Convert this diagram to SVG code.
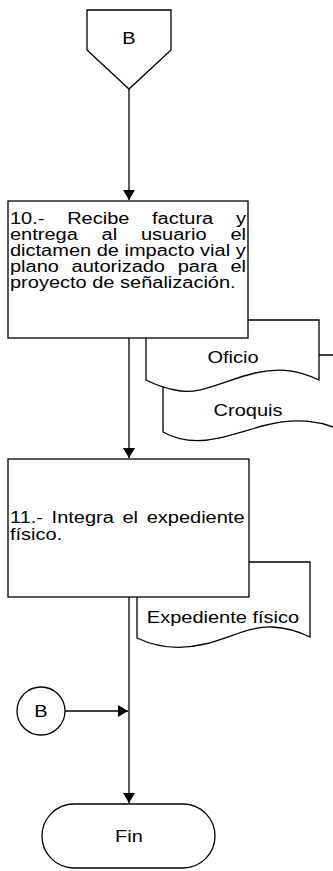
<svg xmlns="http://www.w3.org/2000/svg" width="333" height="871" viewBox="0 0 333 871">
<style>
.s{fill:#fff;stroke:#000;stroke-width:1.3}
.c{fill:none;stroke:#000;stroke-width:1.3}
.t{font-family:"Liberation Sans",Arial,sans-serif;font-size:16px;fill:#000}
.m{text-anchor:middle}
</style>
<defs>
<marker id="ah" viewBox="0 0 10 12" refX="10" refY="6" markerWidth="10" markerHeight="12" markerUnits="userSpaceOnUse" orient="auto">
<path d="M0,0 L10,6 L0,12 z" fill="#000"/>
</marker>
</defs>
<g id="connectors">
<line class="c" x1="129" y1="88" x2="129" y2="200" marker-end="url(#ah)"/>
<line class="c" x1="129" y1="338" x2="129" y2="458" marker-end="url(#ah)"/>
<line class="c" x1="129" y1="597" x2="129" y2="803" marker-end="url(#ah)"/>
<line class="c" x1="65" y1="711" x2="128" y2="711" marker-end="url(#ah)"/>
</g>
<g id="offpage-B">
<path class="s" d="M87,10 L171,10 L171,50 L129,89 L87,50 Z"/>
<text class="t m" transform="scale(1.25,1)" x="103.2" y="44">B</text>
</g>
<g id="doc-croquis">
<path class="s" d="M163,355 L345,355 L345,432 C320,420 295,417 262,426 C228,436 195,450 163,432 Z"/>
<text class="t m" transform="scale(1.25,1)" x="198.4" y="416">Croquis</text>
</g>
<g id="doc-oficio">
<path class="s" d="M146,320 L319,320 L319,380 C300,371 282,367 255,373 C225,380 200,396 175,390 C160,387 152,383 146,380 Z"/>
<text class="t m" transform="scale(1.25,1)" x="186.4" y="363">Oficio</text>
</g>
<g id="step10">
<rect class="s" x="8" y="201" width="240" height="137"/>
<g class="t" transform="scale(1.25,1)">
<text x="8" y="224" word-spacing="13.7">10.- Recibe factura y</text>
<text x="8" y="240" word-spacing="14.6">entrega al usuario el</text>
<text x="8" y="256">dictamen de impacto vial y</text>
<text x="8" y="272" word-spacing="5.7">plano autorizado para el</text>
<text x="8" y="288">proyecto de señalización.</text>
</g>
</g>
<g id="doc-expediente">
<path class="s" d="M137,562 L310,562 L310,637 C300,632 290,628 272,627 C250,626 230,638 205,644 C180,650 158,648 137,638 Z"/>
<text class="t m" transform="scale(1.25,1)" x="178.4" y="623">Expediente físico</text>
</g>
<g id="step11">
<rect class="s" x="8" y="459" width="241" height="138"/>
<g class="t" transform="scale(1.25,1)">
<text x="8" y="523" word-spacing="2.45">11.- Integra el expediente</text>
<text x="8" y="540">físico.</text>
</g>
</g>
<g id="connector-B">
<circle class="s" cx="41" cy="711" r="24"/>
<text class="t m" transform="scale(1.25,1)" x="32.8" y="717">B</text>
</g>
<g id="end">
<rect class="s" x="42" y="804" width="173" height="64" rx="32" ry="32"/>
<text class="t m" transform="scale(1.25,1)" x="103.2" y="842">Fin</text>
</g>
</svg>
